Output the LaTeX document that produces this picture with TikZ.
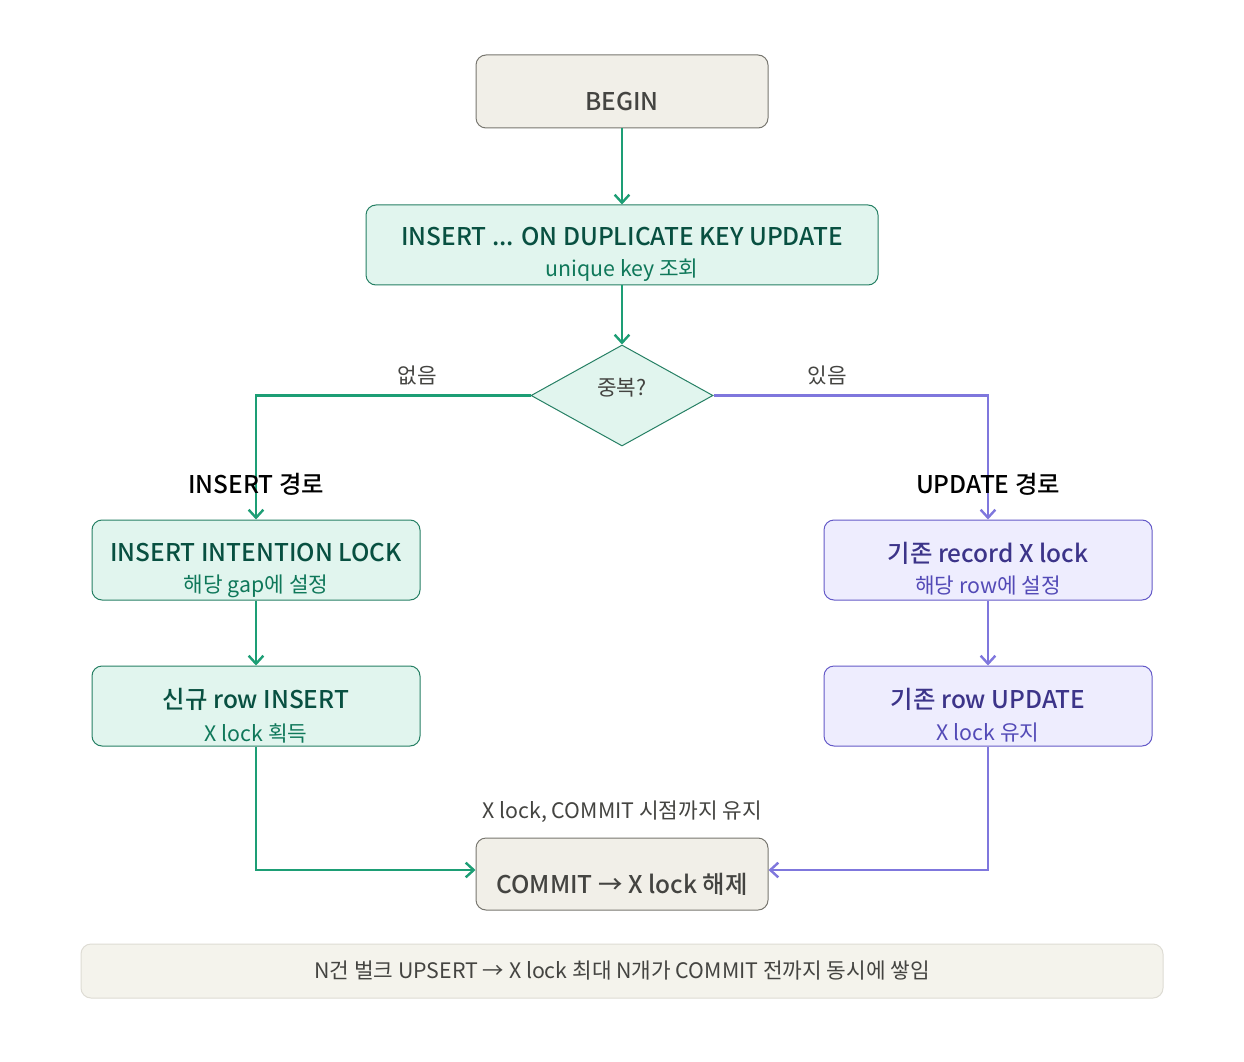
\documentclass[tikz,border=0pt]{standalone}
\usepackage{fontspec}
\setmainfont{Noto Sans CJK KR}
\newfontfamily\mediumfont{Noto Sans CJK KR Medium}
\usetikzlibrary{shapes.geometric,arrows.meta}

\definecolor{beigefill}{RGB}{241,239,232}
\definecolor{beigeline}{RGB}{120,119,112}
\definecolor{beigetext}{RGB}{68,68,65}
\definecolor{tealfill}{RGB}{225,245,238}
\definecolor{tealline}{RGB}{38,128,100}
\definecolor{tealdark}{RGB}{8,80,65}
\definecolor{tealsub}{RGB}{15,120,90}
\definecolor{greenarrow}{RGB}{29,158,117}
\definecolor{purplefill}{RGB}{238,237,254}
\definecolor{purpleline}{RGB}{100,90,200}
\definecolor{purpledark}{RGB}{60,52,137}
\definecolor{purplesub}{RGB}{83,74,183}
\definecolor{purplearrow}{RGB}{127,119,221}
\definecolor{notefill}{RGB}{244,243,236}
\definecolor{noteline}{RGB}{222,220,212}

\tikzset{every picture/.style={line width=0.75pt}}
\tikzset{
  beigebox/.style={draw=beigeline, fill=beigefill, rounded corners=7.5pt, inner sep=0pt},
  tealbox/.style={draw=tealline, fill=tealfill, rounded corners=7.5pt, inner sep=0pt},
  purplebox/.style={draw=purpleline, fill=purplefill, rounded corners=7.5pt, inner sep=0pt},
  greenflow/.style={draw=greenarrow, line width=1.8pt, -{Straight Barb[length=6pt,width=11pt]}},
  purpleflow/.style={draw=purplearrow, line width=1.8pt, -{Straight Barb[length=6pt,width=11pt]}},
  titletext/.style={inner sep=0.75pt, font=\mediumfont\fontsize{18.3pt}{20pt}\selectfont},
  subtext/.style={inner sep=0.75pt, font=\fontsize{16pt}{18pt}\selectfont},
}

\begin{document}
\begin{tikzpicture}[x=0.75pt,y=0.75pt,yscale=-1,xscale=1]
%set diagram area: 1244 x 1062
\fill[white] (0,0) rectangle (1244,1062);
\useasboundingbox (0,0) rectangle (1244,1062);

%Shape: Rectangle [id:begin]
\node [beigebox, minimum width=219pt, minimum height=54.75pt] (begin) at (622,91.5) {};
%Shape: Rectangle [id:insert]
\node [tealbox, minimum width=384pt, minimum height=60pt] (insert) at (622,245) {};
%Shape: Diamond [id:dup]
\node [diamond, draw=tealline, fill=tealfill, inner sep=0pt, minimum width=136.5pt, minimum height=75.75pt] (dup) at (622,395.5) {};
%Shape: Rectangle [id:intention]
\node [tealbox, minimum width=246pt, minimum height=60pt] (intention) at (256,560) {};
%Shape: Rectangle [id:newrow]
\node [tealbox, minimum width=246pt, minimum height=60pt] (newrow) at (256,706) {};
%Shape: Rectangle [id:recordlock]
\node [purplebox, minimum width=246pt, minimum height=60pt] (recordlock) at (988,560) {};
%Shape: Rectangle [id:rowupdate]
\node [purplebox, minimum width=246pt, minimum height=60pt] (rowupdate) at (988,706) {};
%Shape: Rectangle [id:commit]
\node [beigebox, minimum width=219pt, minimum height=54pt] (commit) at (622,874) {};
%Shape: Rectangle [id:note]
\node [draw=noteline, fill=notefill, rounded corners=7.5pt, inner sep=0pt, minimum width=811.5pt, minimum height=40.5pt] (note) at (622,971) {};

%Straight Lines
\draw [greenflow] (begin) -- (insert);
\draw [greenflow] (insert) -- (dup.north);
\draw [greenflow] (dup.west) -| (intention.north);
\draw [purpleflow] (dup.east) -| (recordlock.north);
\draw [greenflow] (intention) -- (newrow);
\draw [purpleflow] (recordlock) -- (rowupdate);
\draw [greenflow] (newrow.south) |- ([yshift=-3pt]commit.west);
\draw [purpleflow] (rowupdate.south) |- ([yshift=-3pt]commit.east);

% Text Node
\node [titletext, text=beigetext] (begintxt) at (622,102) {BEGIN};
% Text Node
\node [titletext, text=tealdark] (inserttxt) at (622,237) {INSERT ... ON DUPLICATE KEY UPDATE};
\node [subtext, text=tealsub] (insertsub) at (622,270) {unique key 조회};
% Text Node
\node [subtext, text=beigetext] (duptxt) at (622,388) {중복?};
% Text Node
\node [subtext, text=beigetext] (nolbl) at (417,375) {없음};
\node [subtext, text=beigetext] (yeslbl) at (827,375) {있음};
% Text Node
\node [titletext, text=black] (insertpath) at (256,484) {INSERT 경로};
\node [titletext, text=black] (updatepath) at (988,484) {UPDATE 경로};
% Text Node
\node [titletext, text=tealdark] (intentiontxt) at (256,553) {INSERT INTENTION LOCK};
\node [subtext, text=tealsub] (intentionsub) at (256,586) {해당 gap에 설정};
% Text Node
\node [titletext, text=tealdark] (newrowtxt) at (256,699) {신규 row INSERT};
\node [subtext, text=tealsub] (newrowsub) at (256,733) {X lock 획득};
% Text Node
\node [titletext, text=purpledark] (recordlocktxt) at (988,553) {기존 record X lock};
\node [subtext, text=purplesub] (recordlocksub) at (988,586) {해당 row에 설정};
% Text Node
\node [titletext, text=purpledark] (rowupdatetxt) at (988,699) {기존 row UPDATE};
\node [subtext, text=purplesub] (rowupdatesub) at (988,733) {X lock 유지};
% Text Node
\node [subtext, text=beigetext] (holdlbl) at (622,812) {X lock, COMMIT 시점까지 유지};
\node [titletext, text=beigetext] (committxt) at (622,884) {COMMIT → X lock 해제};
% Text Node
\node [subtext, text=beigetext] (notetxt) at (622,971) {N건 벌크 UPSERT → X lock 최대 N개가 COMMIT 전까지 동시에 쌓임};

\end{tikzpicture}
\end{document}
